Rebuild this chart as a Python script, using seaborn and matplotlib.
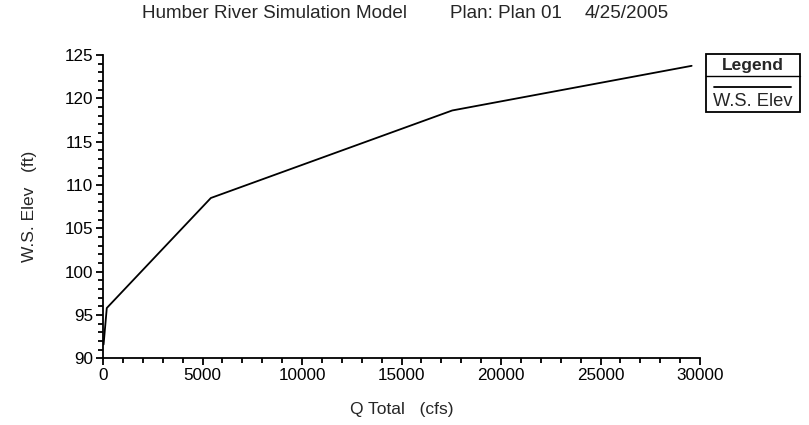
import matplotlib
matplotlib.use("Agg")
import matplotlib.pyplot as plt
from matplotlib.lines import Line2D
from matplotlib.patches import Rectangle
from matplotlib.ticker import MultipleLocator
import seaborn as sns
import pandas as pd

q_total = [30, 190, 5420, 17550, 29580]
ws_elev = [91.6, 95.8, 108.5, 118.6, 123.75]
series_name = "W.S. Elev"
title_parts = ["Humber River Simulation Model", "Plan: Plan 01", "4/25/2005"]
x_label = "Q Total   (cfs)"
y_label = "W.S. Elev   (ft)"

sns.set_style("ticks")
plt.rcParams["font.family"] = ["Liberation Sans", "DejaVu Sans"]

df = pd.DataFrame({"Q": q_total, "WS": ws_elev})

W, H = 809, 425
fig = plt.figure(figsize=(W / 100, H / 100), dpi=100)
ax = fig.add_axes([103 / W, 1 - 358.3 / H, (700 - 103) / W, (358.3 - 55) / H])

sns.lineplot(data=df, x="Q", y="WS", ax=ax, color="black", linewidth=1.3,
             sort=False, estimator=None, legend=False)

ax.set_xlim(0, 30000)
ax.set_ylim(90, 125)
ax.xaxis.set_major_locator(MultipleLocator(5000))
ax.xaxis.set_minor_locator(MultipleLocator(1000))
ax.yaxis.set_major_locator(MultipleLocator(5))
ax.yaxis.set_minor_locator(MultipleLocator(1))
for s in ["top", "right"]:
    ax.spines[s].set_visible(False)
for s in ["left", "bottom"]:
    ax.spines[s].set_linewidth(1.3)
    ax.spines[s].set_color("black")
ax.tick_params(which="major", length=5, width=1.3, labelsize=12.3, pad=2, colors="black")
ax.tick_params(which="minor", length=3.5, width=1.3, colors="black")
ax.set_xlabel(x_label, fontsize=12.5, labelpad=14)
ax.set_ylabel(y_label, fontsize=12.5, labelpad=20)
ax.grid(False)


def fx(px):
    return px / W


def fy(py):
    return 1 - py / H


for part, left in zip(title_parts, [142, 450, 585]):
    fig.text(fx(left), fy(14), part, ha="left", va="center", fontsize=13.6)

# Legend box (figure pixel coordinates)
x0, x1, y0, y1 = 706, 800, 54, 112
fig.add_artist(Rectangle((fx(x0), fy(y1)), fx(x1) - fx(x0), fy(y0) - fy(y1),
                         transform=fig.transFigure, fill=False, edgecolor="black", linewidth=1.3))
fig.add_artist(Line2D([fx(x0), fx(x1)], [fy(76), fy(76)], transform=fig.transFigure,
                      color="black", linewidth=1.0))
fig.text(fx((x0 + x1) / 2), fy(65.5), "Legend", ha="center", va="center", fontsize=12.5,
         fontweight="bold")
fig.add_artist(Line2D([fx(714), fx(791)], [fy(87), fy(87)], transform=fig.transFigure,
                      color="black", linewidth=1.3))
fig.text(fx((x0 + x1) / 2), fy(101.5), series_name, ha="center", va="center", fontsize=13.2)

fig.savefig("out.png", dpi=100)
